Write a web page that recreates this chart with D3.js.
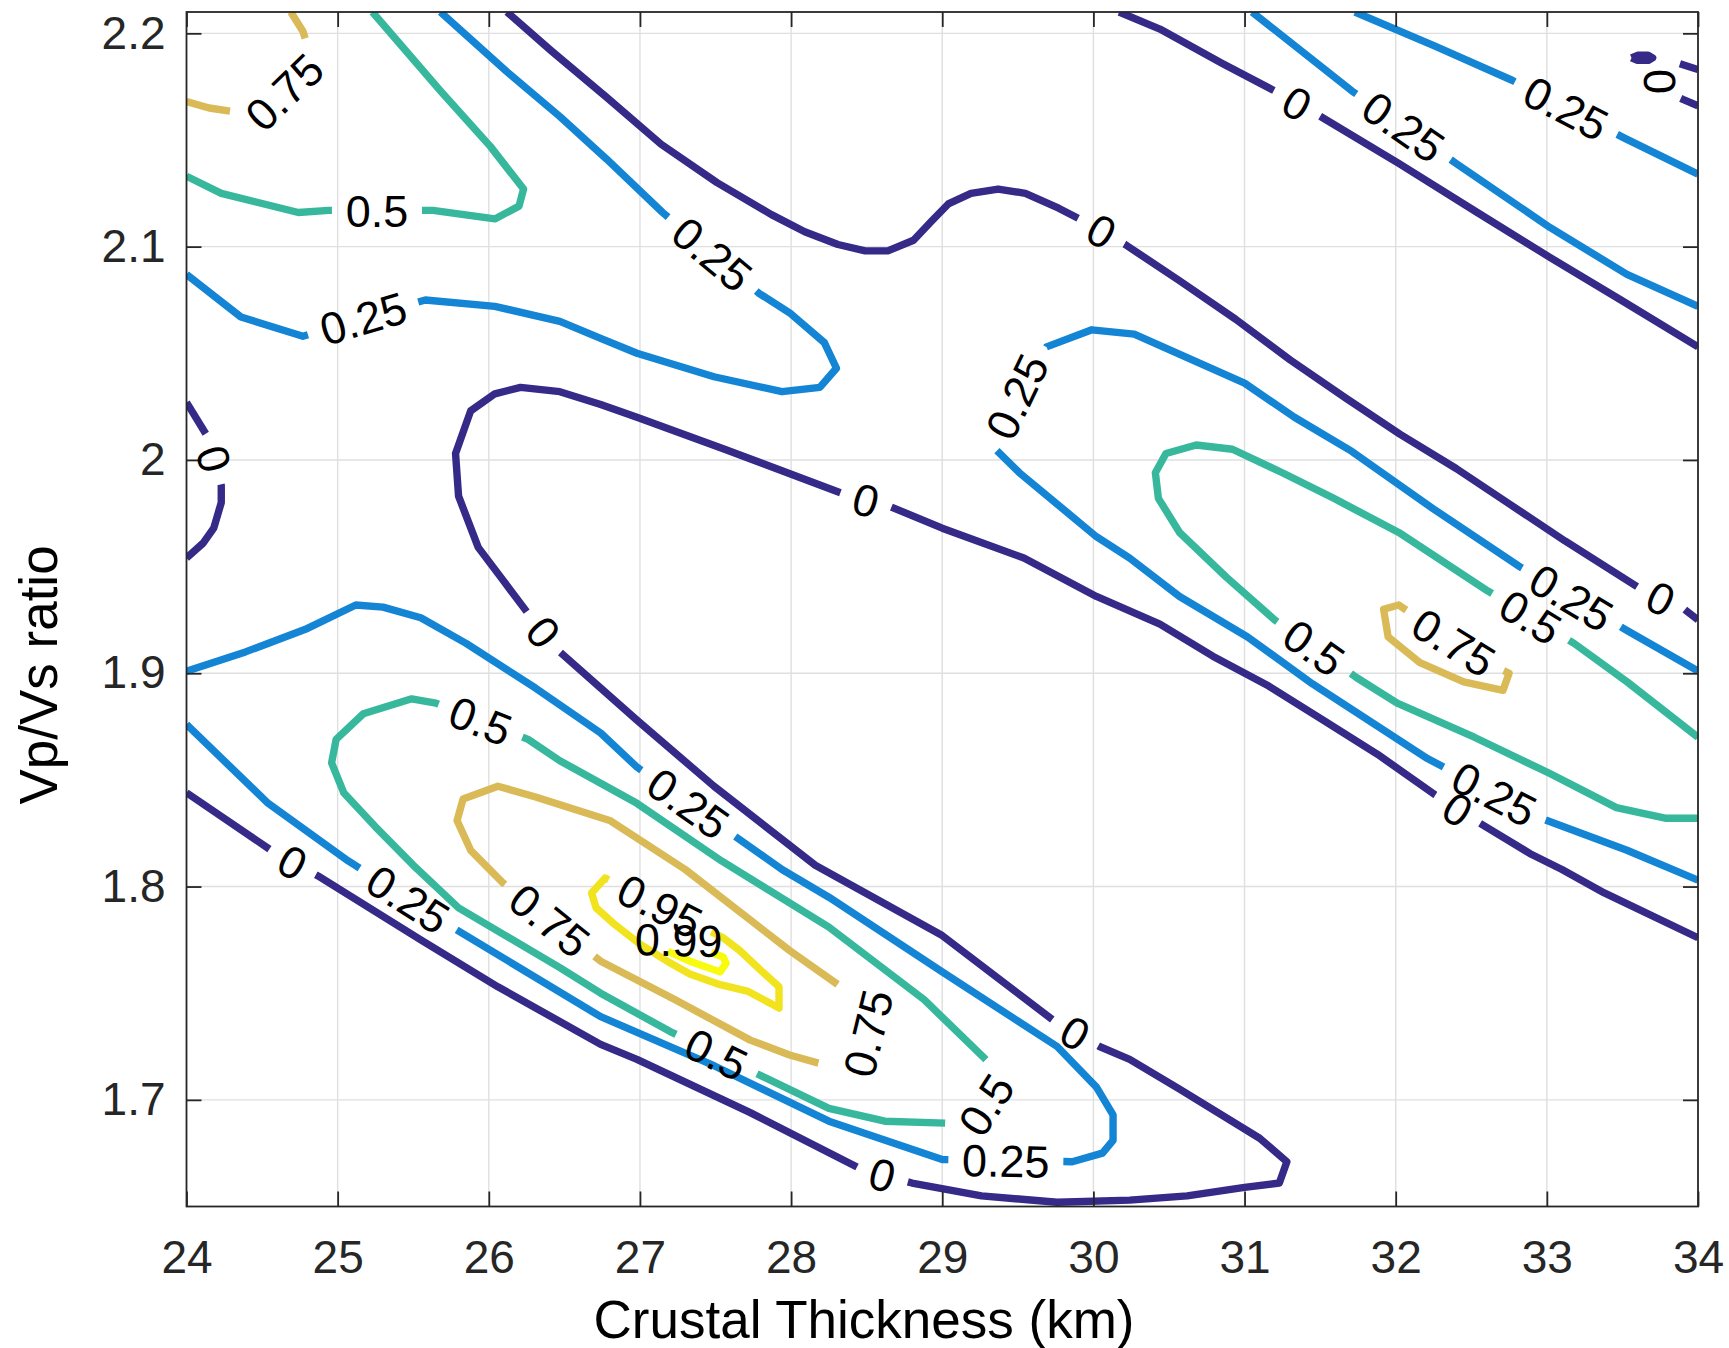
<!DOCTYPE html>
<html>
<head>
<meta charset="utf-8">
<script src="https://cdn.jsdelivr.net/npm/d3@7"></script>
<style>
  html, body { margin: 0; padding: 0; background: #ffffff; }
  svg { display: block; }
</style>
</head>
<body>
<svg id="chart" width="1729" height="1348"></svg>
<script>
// ---- axes ----
const thicknessTicks = [24, 25, 26, 27, 28, 29, 30, 31, 32, 33, 34];
const ratioTicks = [1.7, 1.8, 1.9, 2.0, 2.1, 2.2];
const thicknessDomain = [24, 34];
const ratioDomain = [1.65, 2.21];

// ---- contour levels ----
const levels = [0, 0.25, 0.5, 0.75, 0.95, 0.99];
const levelColors = ["#352a87", "#1485d4", "#37b89d", "#d9ba56", "#f2e31f", "#f9fb0e"];

// contour polylines, points are [crustal thickness (km), Vp/Vs]
// a polyline whose last point repeats its first is a closed loop
const level0Lines = [
  [[26.12,2.21],[26.41,2.192],[26.78,2.170],[27.14,2.148],[27.51,2.130],[27.87,2.115],[28.09,2.107],[28.31,2.101],[28.49,2.098],[28.64,2.098],[28.81,2.103],[28.93,2.112],[29.04,2.120],[29.19,2.125],[29.37,2.127],[29.55,2.125],[29.77,2.118],[29.99,2.110],[30.21,2.101],[30.57,2.084],[30.94,2.066],[31.30,2.047],[31.67,2.029],[32.03,2.012],[32.40,1.996],[32.76,1.979],[33.12,1.962],[33.61,1.940],[33.91,1.930],[34.00,1.925]],
  [[24.00,1.844],[24.56,1.817],[24.87,1.805],[25.55,1.775],[26.06,1.753],[26.74,1.726],[26.98,1.719],[27.73,1.694],[28.45,1.668],[28.80,1.661],[29.26,1.655],[29.76,1.652],[30.24,1.653],[30.62,1.655],[31.00,1.659],[31.23,1.661],[31.28,1.671],[31.10,1.682],[30.57,1.705],[30.24,1.719],[30.04,1.725],[29.74,1.737],[29.00,1.777],[28.16,1.810],[27.49,1.847],[26.98,1.878],[26.47,1.910],[26.26,1.928],[26.09,1.944],[25.93,1.959],[25.80,1.983],[25.78,2.003],[25.88,2.023],[26.04,2.031],[26.21,2.034],[26.47,2.032],[26.74,2.026],[26.98,2.020],[27.56,2.005],[28.35,1.984],[28.66,1.978],[29.00,1.968],[29.54,1.954],[30.02,1.936],[30.44,1.923],[30.79,1.908],[31.16,1.894],[31.52,1.878],[31.88,1.862],[32.26,1.843],[32.55,1.830],[32.90,1.815],[33.10,1.808],[33.38,1.797],[34.00,1.776]],
  [[30.17,2.21],[30.44,2.202],[30.85,2.186],[31.20,2.173],[31.48,2.162],[32.02,2.139],[32.54,2.116],[33.02,2.095],[33.49,2.075],[34.00,2.053]],
  [[24.00,2.027],[24.13,2.012],[24.19,1.999],[24.23,1.988],[24.23,1.980],[24.18,1.968],[24.11,1.961],[24.00,1.954]],
  [[34.00,2.183],[33.87,2.186],[33.78,2.184],[33.74,2.179],[33.78,2.173],[33.90,2.169],[34.00,2.166]],
  [[33.56,2.1885],[33.60,2.1897],[33.67,2.1897],[33.70,2.1885],[33.67,2.1873],[33.60,2.1873],[33.56,2.1885]]
];
const level025Lines = [
  [[24.00,2.087],[24.36,2.067],[24.77,2.058],[25.58,2.075],[26.04,2.072],[26.47,2.065],[26.74,2.057],[26.98,2.050],[27.49,2.039],[27.94,2.032],[28.19,2.034],[28.30,2.043],[28.22,2.055],[27.99,2.069],[27.79,2.078],[27.15,2.116],[26.78,2.141],[26.47,2.161],[26.12,2.182],[25.68,2.21]],
  [[24.00,1.901],[24.39,1.910],[24.80,1.921],[25.12,1.932],[25.30,1.931],[25.55,1.926],[25.85,1.914],[26.31,1.893],[26.74,1.872],[26.98,1.856],[27.64,1.823],[27.94,1.808],[28.25,1.795],[29.00,1.760],[29.76,1.725],[30.02,1.706],[30.13,1.693],[30.13,1.681],[30.06,1.675],[29.86,1.671],[29.00,1.672],[28.25,1.690],[27.49,1.716],[26.74,1.739],[25.78,1.780],[25.07,1.812],[24.54,1.839],[24.00,1.876]],
  [[34.00,1.901],[33.53,1.920],[32.82,1.950],[32.25,1.977],[31.71,2.004],[31.33,2.020],[31.00,2.036],[30.27,2.059],[29.99,2.061],[29.69,2.053],[29.31,2.008],[29.51,1.994],[30.02,1.964],[30.24,1.954],[30.57,1.936],[31.02,1.917],[31.45,1.895],[32.21,1.860],[32.96,1.832],[33.53,1.817],[34.00,1.803]],
  [[31.05,2.21],[31.71,2.173],[32.40,2.139],[33.02,2.109],[33.53,2.087],[34.00,2.072]],
  [[31.73,2.21],[32.26,2.194],[32.77,2.178],[33.51,2.151],[34.00,2.134]]
];
const level05Lines = [
  [[25.23,2.21],[25.68,2.173],[26.01,2.147],[26.23,2.127],[26.20,2.119],[26.04,2.113],[25.63,2.117],[24.94,2.117],[24.74,2.116],[24.23,2.125],[24.00,2.133]],
  [[25.65,1.886],[26.26,1.869],[26.47,1.859],[26.98,1.839],[27.54,1.812],[28.25,1.781],[28.88,1.747],[29.33,1.716],[29.33,1.704],[29.26,1.693],[29.05,1.689],[28.62,1.690],[28.25,1.696],[27.81,1.711],[27.20,1.732],[26.74,1.750],[26.47,1.762],[25.80,1.790],[25.50,1.810],[25.25,1.828],[25.04,1.844],[24.96,1.858],[24.99,1.869],[25.17,1.881],[25.49,1.888],[25.65,1.886]],
  [[34.00,1.870],[33.53,1.896],[33.18,1.914],[32.60,1.939],[32.02,1.966],[31.59,1.982],[31.25,1.994],[30.92,2.005],[30.68,2.007],[30.48,2.003],[30.41,1.994],[30.43,1.982],[30.57,1.966],[30.88,1.945],[31.20,1.925],[31.74,1.898],[32.01,1.886],[32.52,1.870],[33.02,1.853],[33.46,1.837],[33.79,1.832],[34.00,1.832]]
];
const level075Lines = [
  [[24.69,2.21],[24.77,2.201],[24.81,2.192],[24.74,2.179],[24.55,2.166],[24.34,2.163],[24.15,2.165],[24.00,2.168]],
  [[26.06,1.847],[26.31,1.842],[26.80,1.831],[27.30,1.808],[27.99,1.770],[28.37,1.751],[28.51,1.732],[28.44,1.712],[27.99,1.721],[27.73,1.728],[27.23,1.747],[26.74,1.765],[26.09,1.802],[25.88,1.817],[25.79,1.831],[25.83,1.841],[26.06,1.847]],
  [[32.02,1.932],[31.92,1.930],[31.95,1.917],[32.16,1.905],[32.45,1.896],[32.71,1.892],[32.75,1.900],[32.54,1.907],[32.25,1.921],[32.02,1.932]]
];
const level095Lines = [
  [[26.77,1.804],[26.68,1.797],[26.71,1.790],[26.82,1.783],[27.00,1.773],[27.18,1.765],[27.33,1.759],[27.53,1.754],[27.71,1.751],[27.87,1.745],[27.92,1.743],[27.92,1.753],[27.81,1.760],[27.66,1.770],[27.55,1.776],[27.16,1.790],[26.77,1.804]]
];
const level099Lines = [
  [[27.14,1.771],[27.33,1.765],[27.53,1.760],[27.57,1.764],[27.55,1.767],[27.36,1.772],[27.22,1.776],[27.12,1.773],[27.14,1.771]]
];

// inline labels: [level, crustal thickness, Vp/Vs]
const contourLabels = [
  [0, 30.05, 2.107], [0, 33.74, 1.933], [0, 24.69, 1.810], [0, 28.60, 1.664], [0, 29.86, 1.729],
  [0, 26.34, 1.918], [0, 28.49, 1.980], [0, 32.39, 1.834], [0, 31.33, 2.165], [0, 24.16, 2.000],
  [0, 33.77, 2.178],
  [0.25, 25.17, 2.066], [0.25, 27.46, 2.095], [0.25, 27.30, 1.837], [0.25, 29.42, 1.668],
  [0.25, 25.42, 1.789], [0.25, 33.15, 1.934], [0.25, 29.44, 2.032], [0.25, 32.62, 1.839],
  [0.25, 32.04, 2.155], [0.25, 33.12, 2.164],
  [0.5, 25.26, 2.116], [0.5, 25.93, 1.875], [0.5, 29.28, 1.698], [0.5, 27.49, 1.719],
  [0.5, 32.88, 1.925], [0.5, 31.45, 1.911],
  [0.75, 24.64, 2.173], [0.75, 26.39, 1.783], [0.75, 28.52, 1.731], [0.75, 32.38, 1.914],
  [0.95, 27.14, 1.792],
  [0.99, 27.25, 1.774]
];

const linesByLevel = [level0Lines, level025Lines, level05Lines, level075Lines, level095Lines, level099Lines];

// ---- layout ----
const FONT = '"Liberation Sans", Arimo, Arial, Helvetica, sans-serif';
const plot = { left: 186.5, right: 1698, top: 12, bottom: 1206.5 };
const LABEL_SIZE = 45;
const TICK_SIZE = 46;
const LABEL_PAD = 14;
const LINE_WIDTH = 7.4;
const AXIS_COLOR = "#262626";

const svg = d3.select("#chart");
svg.append("rect").attr("width", 1729).attr("height", 1348).attr("fill", "#ffffff");

const x = d3.scaleLinear().domain(thicknessDomain).range([plot.left, plot.right]);
const y = d3.scaleLinear().domain(ratioDomain).range([plot.bottom, plot.top]);

// grid
const grid = svg.append("g").attr("stroke", "#dfdfdf").attr("stroke-width", 1.4);
grid.selectAll(".gx").data(thicknessTicks.slice(1, -1)).join("line")
  .attr("x1", d => x(d)).attr("x2", d => x(d))
  .attr("y1", plot.top).attr("y2", plot.bottom);
grid.selectAll(".gy").data(ratioTicks).join("line")
  .attr("y1", d => y(d)).attr("y2", d => y(d))
  .attr("x1", plot.left).attr("x2", plot.right);

svg.append("clipPath").attr("id", "plotClip").append("rect")
  .attr("x", plot.left).attr("y", plot.top)
  .attr("width", plot.right - plot.left).attr("height", plot.bottom - plot.top);

// ---- polyline geometry in screen space ----
function prep(dataPts) {
  const pts = dataPts.map(([t, r]) => [x(t), y(r)]);
  const first = dataPts[0], last = dataPts[dataPts.length - 1];
  const closed = dataPts.length > 2 && first[0] === last[0] && first[1] === last[1];
  const cum = [0];
  for (let i = 1; i < pts.length; i++) {
    cum.push(cum[i - 1] + Math.hypot(pts[i][0] - pts[i - 1][0], pts[i][1] - pts[i - 1][1]));
  }
  return { pts, cum, total: cum[cum.length - 1], closed, cuts: [] };
}
function wrapS(P, s) {
  if (!P.closed) return Math.max(0, Math.min(P.total, s));
  s = s % P.total; if (s < 0) s += P.total; return s;
}
function pointAt(P, s) {
  s = wrapS(P, s);
  let i = d3.bisectRight(P.cum, s) - 1;
  i = Math.max(0, Math.min(P.pts.length - 2, i));
  const seg = P.cum[i + 1] - P.cum[i];
  const f = seg > 0 ? (s - P.cum[i]) / seg : 0;
  const a = P.pts[i], b = P.pts[i + 1];
  return [a[0] + (b[0] - a[0]) * f, a[1] + (b[1] - a[1]) * f];
}
function project(P, p) {
  let best = { d: Infinity, s: 0 };
  for (let i = 0; i < P.pts.length - 1; i++) {
    const a = P.pts[i], b = P.pts[i + 1];
    const dx = b[0] - a[0], dy = b[1] - a[1];
    const L2 = dx * dx + dy * dy;
    let f = L2 > 0 ? ((p[0] - a[0]) * dx + (p[1] - a[1]) * dy) / L2 : 0;
    f = Math.max(0, Math.min(1, f));
    const q = [a[0] + dx * f, a[1] + dy * f];
    const d = Math.hypot(p[0] - q[0], p[1] - q[1]);
    if (d < best.d) best = { d, s: P.cum[i] + f * Math.sqrt(L2) };
  }
  return best;
}

const measure = svg.append("text").attr("font-family", FONT).attr("font-size", LABEL_SIZE)
  .attr("visibility", "hidden");
function textWidth(str) { measure.text(str); return measure.node().getComputedTextLength(); }

const geometry = linesByLevel.map(lines => lines.map(prep));

// place labels and the gaps they open in their own contour line
const placedLabels = [];
contourLabels.forEach(([lev, t, r]) => {
  const li = levels.indexOf(lev);
  const anchor = [x(t), y(r)];
  let target = null, hit = null;
  geometry[li].forEach(P => {
    const pr = project(P, anchor);
    if (!hit || pr.d < hit.d) { hit = pr; target = P; }
  });
  const txt = String(lev);
  const radius = textWidth(txt) / 2 + LABEL_PAD;
  const maxHalf = target.closed ? 0.225 * target.total : Infinity;
  const s0 = hit.s;
  const p0 = pointAt(target, s0);
  const step = 0.5;
  let sf = s0, sb = s0;
  while (true) {
    const ns = sf + step;
    if (!target.closed && ns > target.total) { sf = target.total; break; }
    if (ns - s0 > maxHalf) break;
    const q = pointAt(target, ns);
    if (Math.hypot(q[0] - p0[0], q[1] - p0[1]) > radius) break;
    sf = ns;
  }
  while (true) {
    const ns = sb - step;
    if (!target.closed && ns < 0) { sb = 0; break; }
    if (s0 - ns > maxHalf) break;
    const q = pointAt(target, ns);
    if (Math.hypot(q[0] - p0[0], q[1] - p0[1]) > radius) break;
    sb = ns;
  }
  target.cuts.push([sb, sf]);
  const pa = pointAt(target, sb), pb = pointAt(target, sf);
  let ang = Math.atan2(pb[1] - pa[1], pb[0] - pa[0]) * 180 / Math.PI;
  if (ang > 90) ang -= 180;
  if (ang <= -90) ang += 180;
  placedLabels.push({ txt, x: p0[0], y: p0[1], ang });
});

// split each polyline into the visible pieces between label gaps
function visiblePieces(P) {
  let cuts = [];
  P.cuts.forEach(([a, b]) => {
    if (!P.closed) { cuts.push([Math.max(0, a), Math.min(P.total, b)]); return; }
    if (a < 0) { cuts.push([a + P.total, P.total]); cuts.push([0, b]); }
    else if (b > P.total) { cuts.push([a, P.total]); cuts.push([0, b - P.total]); }
    else cuts.push([a, b]);
  });
  cuts.sort((m, n) => m[0] - n[0]);
  const merged = [];
  cuts.forEach(c => {
    if (merged.length && c[0] <= merged[merged.length - 1][1]) {
      merged[merged.length - 1][1] = Math.max(merged[merged.length - 1][1], c[1]);
    } else merged.push([c[0], c[1]]);
  });
  let keep = [];
  let cur = 0;
  merged.forEach(([a, b]) => { if (a > cur) keep.push([cur, a]); cur = Math.max(cur, b); });
  if (cur < P.total) keep.push([cur, P.total]);
  const slice = (a, b) => {
    const out = [pointAt(P, a)];
    for (let i = 0; i < P.pts.length; i++) if (P.cum[i] > a && P.cum[i] < b) out.push(P.pts[i]);
    out.push(pointAt(P, b));
    return out;
  };
  if (!merged.length) return [P.pts.slice()];
  let pieces;
  if (P.closed && keep.length > 1 && keep[0][0] === 0 && keep[keep.length - 1][1] === P.total) {
    const head = keep.shift(), tail = keep.pop();
    pieces = keep.map(([a, b]) => slice(a, b));
    pieces.push(slice(tail[0], tail[1]).concat(slice(head[0], head[1]).slice(1)));
  } else {
    pieces = keep.map(([a, b]) => slice(a, b));
  }
  return pieces.filter(p => p.length > 1);
}

const line = d3.line().curve(d3.curveLinear);
const contourLayer = svg.append("g").attr("clip-path", "url(#plotClip)")
  .attr("fill", "none").attr("stroke-width", LINE_WIDTH)
  .attr("stroke-linejoin", "round").attr("stroke-linecap", "butt");
geometry.forEach((lines, li) => {
  const g = contourLayer.append("g").attr("stroke", levelColors[li]);
  lines.forEach(P => {
    visiblePieces(P).forEach(pc => g.append("path").attr("d", line(pc)));
  });
});

// ---- axes box and ticks ----
function styleAxis(g) {
  g.attr("font-family", FONT).attr("font-size", TICK_SIZE);
  g.select(".domain").remove();
  g.selectAll(".tick line").attr("stroke", AXIS_COLOR).attr("stroke-width", 1.8);
  g.selectAll(".tick text").attr("fill", AXIS_COLOR);
}
svg.append("g").attr("transform", `translate(0,${plot.bottom})`)
  .call(d3.axisBottom(x).tickValues(thicknessTicks).tickFormat(d3.format("d"))
    .tickSize(-15).tickPadding(34))
  .call(styleAxis);
svg.append("g").attr("transform", `translate(0,${plot.top})`)
  .call(d3.axisTop(x).tickValues(thicknessTicks).tickFormat("").tickSize(-15))
  .call(styleAxis);
svg.append("g").attr("transform", `translate(${plot.left},0)`)
  .call(d3.axisLeft(y).tickValues(ratioTicks).tickFormat(d3.format("~g"))
    .tickSize(-15).tickPadding(21))
  .call(styleAxis);
svg.append("g").attr("transform", `translate(${plot.right},0)`)
  .call(d3.axisRight(y).tickValues(ratioTicks).tickFormat("").tickSize(-15))
  .call(styleAxis);
svg.append("rect")
  .attr("x", plot.left).attr("y", plot.top)
  .attr("width", plot.right - plot.left).attr("height", plot.bottom - plot.top)
  .attr("fill", "none").attr("stroke", AXIS_COLOR).attr("stroke-width", 1.8);

// ---- contour labels ----
svg.append("g").attr("font-family", FONT).attr("font-size", LABEL_SIZE).attr("fill", "#000")
  .selectAll("text").data(placedLabels).join("text")
  .attr("transform", d => `translate(${d.x},${d.y}) rotate(${d.ang})`)
  .attr("text-anchor", "middle").attr("dy", "0.36em")
  .text(d => d.txt);

// ---- axis titles ----
svg.append("text").attr("x", 864).attr("y", 1338)
  .attr("text-anchor", "middle").attr("font-family", FONT).attr("font-size", 53)
  .attr("fill", "#000").text("Crustal Thickness (km)");
svg.append("text").attr("transform", "translate(57,675) rotate(-90)")
  .attr("text-anchor", "middle").attr("font-family", FONT).attr("font-size", 53)
  .attr("fill", "#000").text("Vp/Vs ratio");

measure.remove();
</script>
</body>
</html>
